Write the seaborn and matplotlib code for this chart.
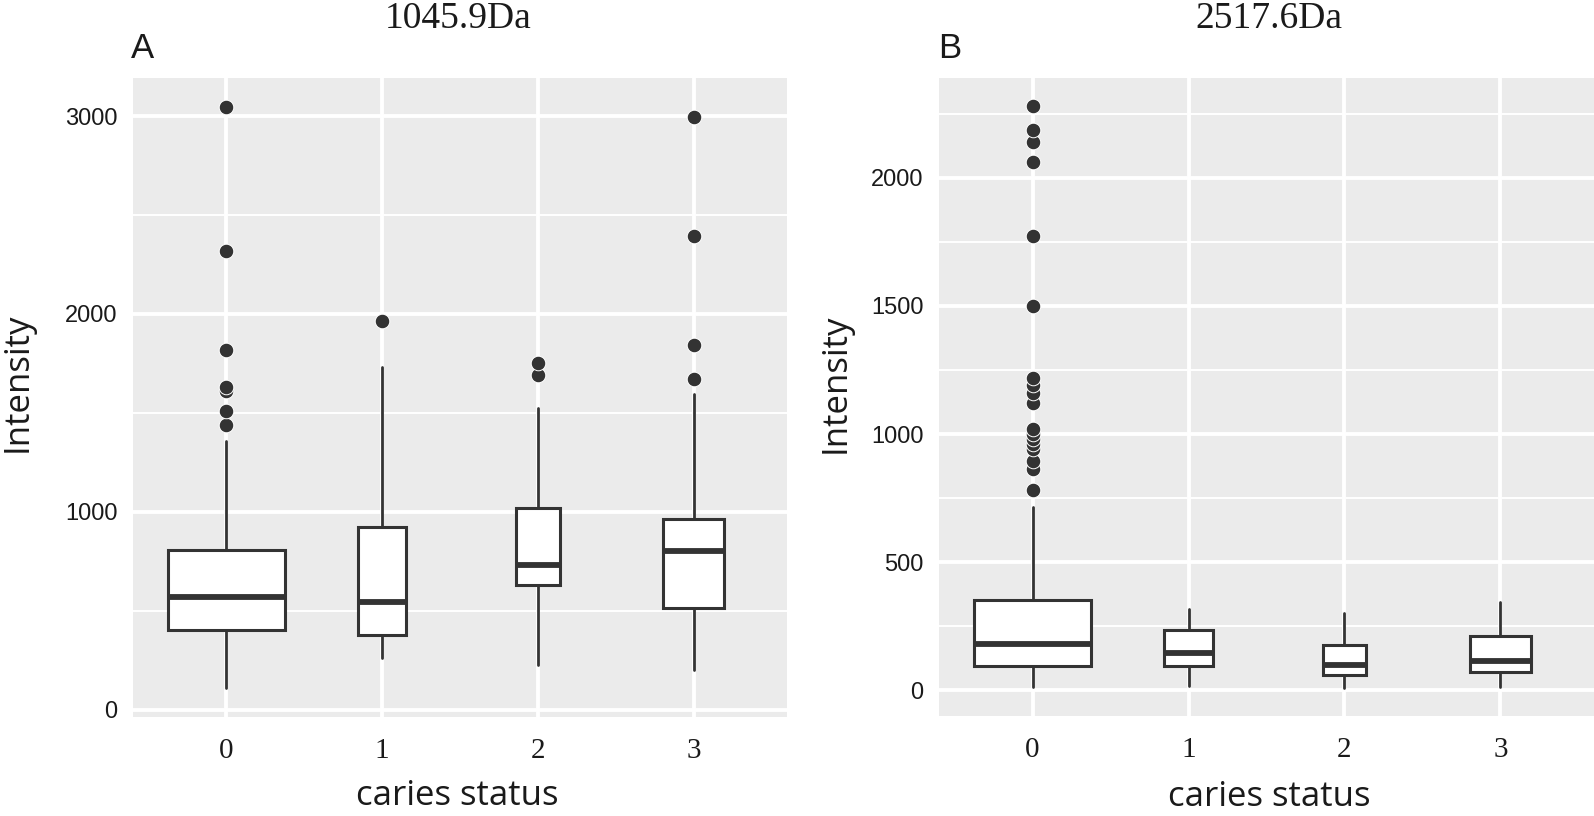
import numpy as np
import matplotlib
matplotlib.use("Agg")
import matplotlib.pyplot as plt
import seaborn as sns
from matplotlib.ticker import MultipleLocator

# --- data ---
categories = ["0", "1", "2", "3"]
rel_widths = [0.75, 0.31, 0.28, 0.39]   # varwidth boxes (group size)

# 1045.9Da
a_q1 = [405, 376, 629, 516]
a_med = [570, 546, 732, 803]
a_q3 = [809, 924, 1020, 963]
a_lo = [111, 263, 228, 199]
a_hi = [1359, 1733, 1523, 1597]
a_out = [
    [1440, 1510, 1610, 1630, 1820, 2317, 3046],
    [1962],
    [1689, 1750],
    [1670, 1844, 2393, 2997],
]

# 2517.6Da
b_q1 = [94, 94, 60, 69]
b_med = [180, 144, 99, 112]
b_q3 = [353, 235, 176, 213]
b_lo = [13, 17, 8, 13]
b_hi = [714, 318, 303, 346]
b_out = [
    [780, 865, 893, 940, 960, 980, 1000, 1020, 1120, 1160, 1190, 1220,
     1500, 1775, 2064, 2139, 2188, 2282],
    [],
    [],
    [],
]

# --- style (ggplot grey look) ---
sns.set_theme(style="darkgrid", rc={
    "axes.facecolor": "#EBEBEB",
    "grid.color": "white",
    "axes.edgecolor": "#EBEBEB",
})
plt.rcParams["font.family"] = ["Liberation Sans", "DejaVu Sans"]

ink = "#333333"
txt = "#1a1a1a"


def draw_panel(ax, q1, med, q3, lo, hi, out, ylim, major, minor):
    stats = []
    for i in range(len(categories)):
        stats.append(dict(q1=q1[i], med=med[i], q3=q3[i],
                          whislo=lo[i], whishi=hi[i], fliers=out[i]))
    ax.bxp(stats, positions=range(len(categories)), widths=rel_widths,
           patch_artist=True, showcaps=False,
           boxprops=dict(facecolor="white", edgecolor=ink, linewidth=2.2),
           medianprops=dict(color=ink, linewidth=4.2, solid_capstyle="butt"),
           whiskerprops=dict(color=ink, linewidth=2.0),
           flierprops=dict(marker="o", markerfacecolor=ink, markeredgecolor="white",
                           markeredgewidth=0.7, markersize=10.5))
    ax.set_xlim(-0.6, len(categories) - 0.4)
    ax.set_ylim(*ylim)
    ax.set_xticks(range(len(categories)))
    ax.set_xticklabels(categories)
    ax.yaxis.set_major_locator(MultipleLocator(major))
    ax.yaxis.set_minor_locator(MultipleLocator(minor))
    ax.grid(True, which="major", color="white", linewidth=2.8)
    ax.grid(True, which="minor", axis="y", color="white", linewidth=1.4)
    ax.set_axisbelow(True)
    ax.tick_params(which="major", length=6, width=2, color=ink, pad=5)
    ax.tick_params(axis="x", which="major", pad=9)
    ax.tick_params(which="minor", length=0)
    for s in ax.spines.values():
        s.set_visible(False)
    ax.set_xlabel("")
    ax.set_ylabel("")
    for lab in ax.get_xticklabels():
        lab.set_fontfamily("Liberation Serif")
        lab.set_fontsize(21)
        lab.set_color(txt)
    for lab in ax.get_yticklabels():
        lab.set_fontsize(17)
        lab.set_color(txt)


fig = plt.figure(figsize=(15.94, 8.16), dpi=100)
axA = fig.add_axes([0.0834, 0.1213, 0.4103, 0.7831])
axB = fig.add_axes([0.5891, 0.1225, 0.4109, 0.7819])

draw_panel(axA, a_q1, a_med, a_q3, a_lo, a_hi, a_out, (-37, 3192), 1000, 500)
draw_panel(axB, b_q1, b_med, b_q3, b_lo, b_hi, b_out, (-101, 2390), 500, 250)

W, H = 1594, 816
lab_font = dict(family=["Open Sans", "DejaVu Sans"], fontsize=25, color=txt)

# titles / panel letters
fig.text(458 / W, 1 - 28 / H, "1045.9Da", family="Liberation Serif", fontsize=27,
         ha="center", va="baseline", color=txt)
fig.text(1269 / W, 1 - 28 / H, "2517.6Da", family="Liberation Serif", fontsize=27,
         ha="center", va="baseline", color=txt)
fig.text(131 / W, 1 - 58 / H, "A", fontsize=25, ha="left", va="baseline", color=txt)
fig.text(938 / W, 1 - 58 / H, "B", fontsize=25, ha="left", va="baseline", color=txt)

# axis titles
fig.text(18 / W, 1 - 382 / H, "Intensity", rotation=90, ha="center", va="center", **lab_font)
fig.text(836 / W, 1 - 383 / H, "Intensity", rotation=90, ha="center", va="center", **lab_font)
fig.text(457 / W, 1 - 796 / H, "caries status", ha="center", va="center", **lab_font)
fig.text(1269 / W, 1 - 797 / H, "caries status", ha="center", va="center", **lab_font)

fig.savefig("out.png", dpi=100, facecolor="white")
